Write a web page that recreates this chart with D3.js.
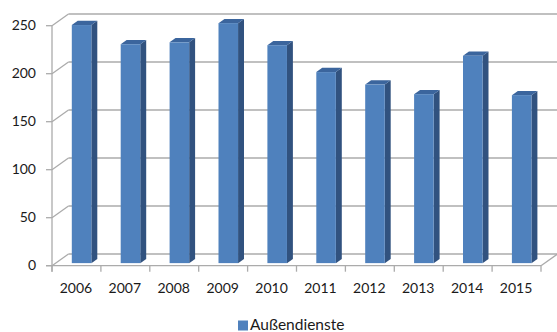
<!DOCTYPE html>
<html>
<head>
<meta charset="utf-8">
<script src="https://cdn.jsdelivr.net/npm/d3@7"></script>
<style>
  html, body { margin: 0; padding: 0; background: #fff; }
  svg { display: block; font-family: Lato, "Liberation Sans", sans-serif; }
</style>
</head>
<body>
<svg id="chart" width="557" height="332"></svg>
<script>
// Data
const years = ["2006", "2007", "2008", "2009", "2010", "2011", "2012", "2013", "2014", "2015"];
const values = [248, 228, 230, 250, 227, 199, 186, 176, 216, 175];
const yTicks = [0, 50, 100, 150, 200, 250];
const seriesName = "Außendienste";

(function () {
  const svg = d3.select("#chart");

  // Front plane of the 3D box and the depth offset to the back wall
  const plotLeft = 52, plotRight = 541, plotBottom = 265.7, plotTop = 25.7;
  const depthX = 16.5, depthY = -11.7;

  // Bar placement inside the depth of the box
  const barFront = 0.22, barBack = 0.58;

  const x = d3.scaleBand().domain(years).range([plotLeft, plotRight]).paddingInner(0.6).paddingOuter(0.3);
  const y = d3.scaleLinear().domain([0, 250]).range([plotBottom, plotTop]);

  const gridColor = "#ababab";

  // Back wall gridlines and the connecting diagonals on the left wall
  const grid = svg.append("g").attr("stroke", gridColor).attr("stroke-width", 1.3).attr("fill", "none");
  yTicks.forEach(t => {
    const yf = y(t);
    grid.append("line")
      .attr("x1", plotLeft + depthX).attr("y1", yf + depthY)
      .attr("x2", 557).attr("y2", yf + depthY);
    grid.append("line")
      .attr("x1", plotLeft).attr("y1", yf)
      .attr("x2", plotLeft + depthX).attr("y2", yf + depthY);
  });

  // Floor: front edge and right-hand diagonal
  grid.append("line").attr("x1", plotLeft - 6).attr("y1", plotBottom).attr("x2", plotRight).attr("y2", plotBottom);
  grid.append("line").attr("x1", plotRight).attr("y1", plotBottom).attr("x2", plotRight + depthX).attr("y2", plotBottom + depthY);

  // Value axis line with ticks
  grid.append("line").attr("x1", plotLeft).attr("y1", y(250)).attr("x2", plotLeft).attr("y2", plotBottom + 6);
  yTicks.forEach(t => {
    grid.append("line").attr("x1", plotLeft - 6).attr("y1", y(t)).attr("x2", plotLeft).attr("y2", y(t));
  });

  // Category boundary ticks
  d3.range(years.length + 1).forEach(i => {
    const xx = plotLeft + i * (plotRight - plotLeft) / years.length;
    grid.append("line").attr("x1", xx).attr("y1", plotBottom).attr("x2", xx).attr("y2", plotBottom + 6);
  });

  // Value axis labels
  svg.append("g").selectAll("text").data(yTicks).join("text")
    .attr("x", 36).attr("y", d => y(d) + 1)
    .attr("text-anchor", "end").attr("dominant-baseline", "middle")
    .attr("font-size", 14).attr("fill", "#1a1a1a")
    .text(d => d);

  // Category labels
  svg.append("g").selectAll("text").data(years).join("text")
    .attr("x", d => x(d) + x.bandwidth() / 2 - 0.5).attr("y", 293)
    .attr("text-anchor", "middle")
    .attr("font-size", 14).attr("fill", "#1a1a1a")
    .text(d => d);

  // 3D columns
  const fx = barFront * depthX, fy = barFront * depthY;
  const dx = (barBack - barFront) * depthX, dy = (barBack - barFront) * depthY;
  const bars = svg.append("g").selectAll("g").data(years.map((yr, i) => ({ yr, v: values[i] }))).join("g");

  bars.each(function (d) {
    const g = d3.select(this);
    const x0 = x(d.yr) + fx + 1.5, x1 = x0 + x.bandwidth();
    const y0 = y(0) + fy, y1 = y(d.v) + fy;
    // side face
    g.append("path")
      .attr("d", `M${x1},${y1}L${x1 + dx},${y1 + dy}L${x1 + dx},${y0 + dy}L${x1},${y0}Z`)
      .attr("fill", "#31527f");
    // top face
    g.append("path")
      .attr("d", `M${x0},${y1}L${x0 + dx},${y1 + dy}L${x1 + dx},${y1 + dy}L${x1},${y1}Z`)
      .attr("fill", "#3b659d");
    // front face
    g.append("rect")
      .attr("x", x0).attr("y", y1)
      .attr("width", x1 - x0).attr("height", y0 - y1)
      .attr("fill", "#4f81bd");
  });

  // Legend
  const legend = svg.append("g");
  legend.append("rect").attr("x", 238).attr("y", 320.5).attr("width", 10).attr("height", 10).attr("fill", "#4f81bd");
  legend.append("text").attr("x", 250).attr("y", 330)
    .attr("font-size", 15.5).attr("fill", "#1a1a1a").text(seriesName);
})();
</script>
</body>
</html>
